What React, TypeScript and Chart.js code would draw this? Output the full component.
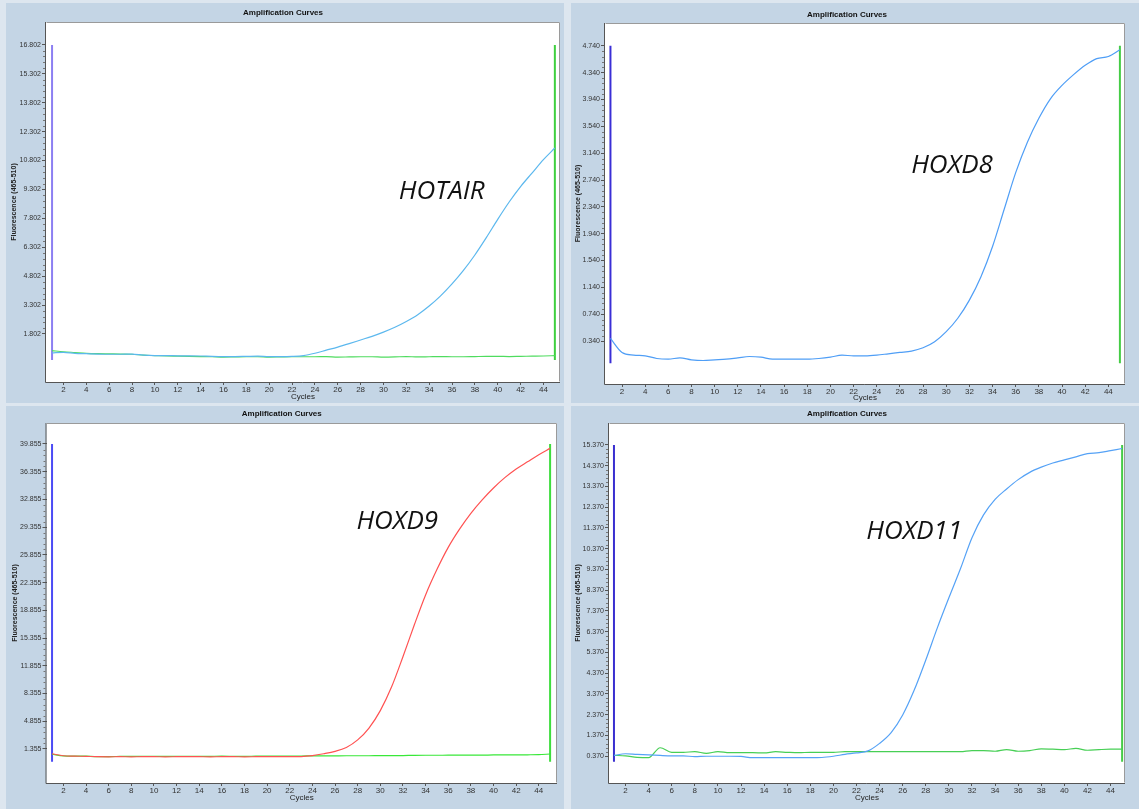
import React, { useEffect, useRef } from "react";
import { Chart, registerables } from "chart.js";

Chart.register(...registerables);

// ---------- shared categories / ticks ----------
const cycles = [
  1, 2, 3, 4, 5, 6, 7, 8, 9, 10, 11, 12, 13, 14, 15, 16, 17, 18, 19, 20, 21, 22, 23,
  24, 25, 26, 27, 28, 29, 30, 31, 32, 33, 34, 35, 36, 37, 38, 39, 40, 41, 42, 43, 44, 45,
];
const xTickValues = [2, 4, 6, 8, 10, 12, 14, 16, 18, 20, 22, 24, 26, 28, 30, 32, 34, 36, 38, 40, 42, 44];
const titleText = "Amplification Curves";
const yTitleText = "Fluorescence (465-510)";
const xTitleText = "Cycles";

// ---------- HOTAIR ----------
const hotairSample = [
  0.82, 0.85, 0.8, 0.78, 0.76, 0.75, 0.75, 0.76, 0.7, 0.68, 0.68, 0.67, 0.67, 0.66, 0.64,
  0.63, 0.63, 0.64, 0.65, 0.63, 0.63, 0.64, 0.68, 0.8, 0.96, 1.12, 1.3, 1.49, 1.68, 1.9,
  2.15, 2.45, 2.8, 3.25, 3.78, 4.4, 5.1, 5.9, 6.8, 7.75, 8.65, 9.45, 10.15, 10.85, 11.45,
];
const hotairControl = [
  0.94, 0.88, 0.84, 0.8, 0.78, 0.77, 0.76, 0.75, 0.7, 0.68, 0.66, 0.65, 0.64, 0.63, 0.62,
  0.6, 0.61, 0.62, 0.62, 0.6, 0.61, 0.62, 0.62, 0.62, 0.63, 0.6, 0.61, 0.62, 0.62, 0.6,
  0.61, 0.63, 0.61, 0.62, 0.63, 0.62, 0.62, 0.63, 0.64, 0.64, 0.63, 0.64, 0.65, 0.66, 0.68,
];
const hotairYTicks = [1.802, 3.302, 4.802, 6.302, 7.802, 9.302, 10.802, 12.302, 13.802, 15.302, 16.802];
const hotairYRange = [-0.69, 17.99];
const hotairXRange = [0.47, 45.45];
const hotairMarker = [0.45, 16.802];
const hotairLabelAt = [35.1, 9.2];

// ---------- HOXD8 ----------
const hoxd8Sample = [
  0.38, 0.17, 0.13, 0.12, 0.08, 0.07, 0.09, 0.06, 0.05, 0.06, 0.07, 0.09, 0.11, 0.1, 0.07,
  0.07, 0.07, 0.07, 0.08, 0.1, 0.13, 0.12, 0.12, 0.13, 0.15, 0.17, 0.19, 0.24, 0.33, 0.48,
  0.68, 0.95, 1.3, 1.75, 2.3, 2.85, 3.3, 3.66, 3.95, 4.15, 4.31, 4.45, 4.55, 4.58, 4.68,
];
const hoxd8YTicks = [0.34, 0.74, 1.14, 1.54, 1.94, 2.34, 2.74, 3.14, 3.54, 3.94, 4.34, 4.74];
const hoxd8YRange = [-0.3, 5.08];
const hoxd8XRange = [0.53, 45.44];
const hoxd8Marker = [0.01, 4.74];
const hoxd8LabelAt = [30.5, 2.96];

// ---------- HOXD9 ----------
const hoxd9Sample = [
  0.75, 0.5, 0.45, 0.42, 0.38, 0.37, 0.38, 0.37, 0.38, 0.38, 0.37, 0.38, 0.39, 0.38, 0.37,
  0.38, 0.38, 0.37, 0.38, 0.39, 0.38, 0.38, 0.4, 0.52, 0.75, 1.05, 1.55, 2.5, 4.0, 6.2,
  9.2, 13.0, 17.0, 20.8, 24.0, 26.8, 29.1, 31.1, 32.8, 34.3, 35.6, 36.7, 37.6, 38.5, 39.3,
];
const hoxd9Control = [
  0.69, 0.48, 0.45, 0.44, 0.4, 0.4, 0.41, 0.42, 0.41, 0.42, 0.42, 0.43, 0.42, 0.42, 0.43,
  0.44, 0.43, 0.42, 0.45, 0.46, 0.46, 0.47, 0.47, 0.48, 0.48, 0.49, 0.5, 0.5, 0.5, 0.51,
  0.51, 0.52, 0.55, 0.56, 0.56, 0.57, 0.57, 0.58, 0.58, 0.6, 0.6, 0.61, 0.62, 0.64, 0.72,
];
const hoxd9YTicks = [1.355, 4.855, 8.355, 11.855, 15.355, 18.855, 22.355, 25.855, 29.355, 32.855, 36.355, 39.855];
const hoxd9YRange = [-2.94, 42.5];
const hoxd9XRange = [0.51, 45.61];
const hoxd9Marker = [-0.25, 39.855];
const hoxd9LabelAt = [31.5, 30.0];

// ---------- HOXD11 ----------
const hoxd11Sample = [
  0.4, 0.48, 0.45, 0.43, 0.4, 0.38, 0.38, 0.34, 0.36, 0.36, 0.36, 0.35, 0.29, 0.29, 0.29,
  0.29, 0.29, 0.29, 0.3, 0.36, 0.45, 0.52, 0.62, 0.98, 1.5, 2.35, 3.55, 5.0, 6.55, 8.0,
  9.4, 10.9, 12.0, 12.75, 13.25, 13.7, 14.05, 14.3, 14.5, 14.65, 14.8, 14.95, 15.0, 15.1, 15.2,
];
const hoxd11Control = [
  0.4, 0.38, 0.31, 0.29, 0.77, 0.55, 0.55, 0.58, 0.5, 0.58, 0.53, 0.53, 0.53, 0.52, 0.58,
  0.55, 0.53, 0.55, 0.55, 0.55, 0.58, 0.58, 0.58, 0.58, 0.58, 0.58, 0.58, 0.58, 0.58, 0.58,
  0.58, 0.63, 0.63, 0.6, 0.68, 0.6, 0.63, 0.72, 0.7, 0.68, 0.74, 0.65, 0.68, 0.7, 0.7,
];
const hoxd11YTicks = [0.37, 1.37, 2.37, 3.37, 4.37, 5.37, 6.37, 7.37, 8.37, 9.37, 10.37, 11.37, 12.37, 13.37, 14.37, 15.37];
const hoxd11YRange = [-0.93, 16.43];
const hoxd11XRange = [0.57, 45.25];
const hoxd11Marker = [0.1, 15.37];
const hoxd11LabelAt = [27.0, 11.2];

// ---------- plugins ----------
const panelDecor = {
  id: "panelDecor",
  beforeDraw(chart: any) {
    const { ctx, chartArea: a } = chart;
    ctx.save();
    ctx.fillStyle = "#ffffff";
    ctx.fillRect(a.left, a.top, a.right - a.left, a.bottom - a.top);
    ctx.restore();
  },
  afterDraw(chart: any, _args: any, opts: any) {
    const { ctx, chartArea: a, scales } = chart;
    ctx.save();
    ctx.lineWidth = 1;
    ctx.strokeStyle = "#9a9a9a";
    ctx.beginPath();
    ctx.moveTo(a.left + 0.5, a.top + 0.5);
    ctx.lineTo(a.right - 0.5, a.top + 0.5);
    ctx.lineTo(a.right - 0.5, a.bottom - 0.5);
    ctx.stroke();
    ctx.strokeStyle = "#555555";
    ctx.beginPath();
    ctx.moveTo(a.left - 0.5, a.top);
    ctx.lineTo(a.left - 0.5, a.bottom + 0.5);
    ctx.lineTo(a.right, a.bottom + 0.5);
    ctx.stroke();
    const y = scales.y;
    const t: number[] = opts.yTicks || [];
    ctx.strokeStyle = "#777777";
    ctx.beginPath();
    for (let i = 0; i < t.length - 1; i++) {
      const step = (t[i + 1] - t[i]) / 5;
      for (let k = 1; k < 5; k++) {
        const py = Math.round(y.getPixelForValue(t[i] + k * step)) + 0.5;
        ctx.moveTo(a.left - 3, py);
        ctx.lineTo(a.left - 1, py);
      }
    }
    ctx.stroke();
    if (opts.label) {
      const px = scales.x.getPixelForValue(opts.labelAt[0]);
      const py = scales.y.getPixelForValue(opts.labelAt[1]);
      ctx.font = 'italic 400 26px "Open Sans", "Noto Sans", sans-serif';
      ctx.fillStyle = "#111111";
      ctx.textAlign = "center";
      ctx.textBaseline = "middle";
      ctx.fillText(opts.label, px, py);
    }
    ctx.restore();
  },
};

type Series = { values: number[]; color: string; width?: number };
type Spec = {
  left: number;
  top: number;
  width: number;
  height: number;
  padL: number;
  padR: number;
  padB: number;
  yW: number;
  xH: number;
  titlePadTop: number;
  titlePadBottom: number;
  yTitlePad: number;
  xTitlePadBottom: number;
  yTicks: number[];
  yRange: number[];
  xRange: number[];
  marker: number[];
  purple: string;
  green: string;
  series: Series[];
  label: string;
  labelAt: number[];
};

const family = '"Liberation Sans", Arial, sans-serif';
const xTickFont = { family, size: 8 };
const yTickFont = { family, size: 7 };

function Panel({ spec }: { spec: Spec }) {
  const ref = useRef<HTMLCanvasElement | null>(null);
  useEffect(() => {
    if (!ref.current) return;
    const datasets: any[] = spec.series.map((s) => ({
      data: cycles.map((c, i) => ({ x: c, y: s.values[i] })),
      borderColor: s.color,
      borderWidth: s.width ?? 1.2,
      pointRadius: 0,
      cubicInterpolationMode: "monotone",
      fill: false,
    }));
    datasets.push({
      data: [
        { x: cycles[0], y: spec.marker[0] },
        { x: cycles[0], y: spec.marker[1] },
      ],
      borderColor: spec.purple,
      borderWidth: 2,
      pointRadius: 0,
      fill: false,
    });
    datasets.push({
      data: [
        { x: cycles[cycles.length - 1], y: spec.marker[0] },
        { x: cycles[cycles.length - 1], y: spec.marker[1] },
      ],
      borderColor: spec.green,
      borderWidth: 2,
      pointRadius: 0,
      fill: false,
    });
    const chart = new Chart(ref.current, {
      type: "line",
      data: { datasets },
      plugins: [panelDecor as any],
      options: {
        responsive: false,
        animation: false,
        devicePixelRatio: 1,
        events: [],
        layout: { padding: { left: spec.padL, right: spec.padR, top: 0, bottom: spec.padB } },
        plugins: {
          legend: { display: false },
          tooltip: { enabled: false },
          title: {
            display: true,
            text: titleText,
            color: "#111111",
            font: { family, size: 8, weight: "bold", lineHeight: 1.25 },
            padding: { top: spec.titlePadTop, bottom: spec.titlePadBottom },
          },
          panelDecor: { yTicks: spec.yTicks, label: spec.label, labelAt: spec.labelAt },
        } as any,
        scales: {
          x: {
            type: "linear",
            min: spec.xRange[0],
            max: spec.xRange[1],
            afterFit: (s: any) => {
              s.height = spec.xH;
            },
            afterBuildTicks: (s: any) => {
              s.ticks = xTickValues.map((v) => ({ value: v }));
            },
            ticks: {
              autoSkip: false,
              maxRotation: 0,
              padding: 0,
              color: "#333333",
              font: xTickFont,
              callback: (v: any) => String(v),
            },
            grid: { drawOnChartArea: false, drawTicks: true, tickLength: 3, color: "#555555" },
            border: { display: false },
            title: {
              display: true,
              text: xTitleText,
              color: "#222222",
              font: { family, size: 8 },
              padding: { top: 0, bottom: spec.xTitlePadBottom },
            },
          },
          y: {
            type: "linear",
            min: spec.yRange[0],
            max: spec.yRange[1],
            afterFit: (s: any) => {
              s.width = spec.yW;
            },
            afterBuildTicks: (s: any) => {
              s.ticks = spec.yTicks.map((v) => ({ value: v }));
            },
            ticks: {
              autoSkip: false,
              padding: 1,
              color: "#333333",
              font: yTickFont,
              callback: (v: any) => Number(v).toFixed(3),
            },
            grid: { drawOnChartArea: false, drawTicks: true, tickLength: 4, color: "#555555" },
            border: { display: false },
            title: {
              display: true,
              text: yTitleText,
              color: "#222222",
              font: { family, size: 7, weight: "bold" },
              padding: { top: spec.yTitlePad, bottom: 0 },
            },
          },
        },
      } as any,
    });
    return () => chart.destroy();
  }, []);
  return (
    <canvas
      ref={ref}
      width={spec.width}
      height={spec.height}
      style={{ position: "absolute", left: spec.left, top: spec.top, width: spec.width, height: spec.height }}
    />
  );
}

const specs: Spec[] = [
  {
    left: 0, top: 0, width: 566, height: 403,
    padL: 6, padR: 6, padB: 0, yW: 40, xH: 21,
    titlePadTop: 8, titlePadBottom: 4, yTitlePad: 4, xTitlePadBottom: 1,
    yTicks: hotairYTicks, yRange: hotairYRange, xRange: hotairXRange, marker: hotairMarker,
    purple: "#8c7ff2", green: "#3fcf3f",
    series: [
      { values: hotairSample, color: "#5cb8ee" },
      { values: hotairControl, color: "#4fdc5f" },
    ],
    label: "HOTAIR", labelAt: hotairLabelAt,
  },
  {
    left: 566, top: 0, width: 573, height: 403,
    padL: 3, padR: 14, padB: 0, yW: 36, xH: 19,
    titlePadTop: 10, titlePadBottom: 3, yTitlePad: 5, xTitlePadBottom: 0,
    yTicks: hoxd8YTicks, yRange: hoxd8YRange, xRange: hoxd8XRange, marker: hoxd8Marker,
    purple: "#3a2fd6", green: "#46cc46",
    series: [{ values: hoxd8Sample, color: "#4f9ef6" }],
    label: "HOXD8", labelAt: hoxd8LabelAt,
  },
  {
    left: 0, top: 403, width: 566, height: 406,
    padL: 6.5, padR: 9, padB: 5, yW: 40, xH: 21,
    titlePadTop: 6, titlePadBottom: 4, yTitlePad: 4, xTitlePadBottom: 1,
    yTicks: hoxd9YTicks, yRange: hoxd9YRange, xRange: hoxd9XRange, marker: hoxd9Marker,
    purple: "#4b4bf5", green: "#3ddd3d",
    series: [
      { values: hoxd9Sample, color: "#ff5252" },
      { values: hoxd9Control, color: "#38e838" },
    ],
    label: "HOXD9", labelAt: hoxd9LabelAt,
  },
  {
    left: 566, top: 403, width: 573, height: 406,
    padL: 3, padR: 14, padB: 5, yW: 40, xH: 21,
    titlePadTop: 6, titlePadBottom: 4, yTitlePad: 5, xTitlePadBottom: 1,
    yTicks: hoxd11YTicks, yRange: hoxd11YRange, xRange: hoxd11XRange, marker: hoxd11Marker,
    purple: "#3a2fd0", green: "#46cc46",
    series: [
      { values: hoxd11Sample, color: "#55a2f6" },
      { values: hoxd11Control, color: "#47cf55" },
    ],
    label: "HOXD11", labelAt: hoxd11LabelAt,
  },
];

const panelBg = "#c4d5e5";

export default function App() {
  return (
    <div
      style={{
        position: "absolute",
        left: 0,
        top: 0,
        width: 1139,
        height: 809,
        overflow: "hidden",
        background: "#dde6ef",
      }}
    >
      <div style={{ position: "absolute", left: 6, top: 3, width: 558, height: 400, background: panelBg }} />
      <div style={{ position: "absolute", left: 571, top: 3, width: 568, height: 400, background: panelBg }} />
      <div style={{ position: "absolute", left: 6, top: 406, width: 558, height: 403, background: panelBg }} />
      <div style={{ position: "absolute", left: 571, top: 406, width: 568, height: 403, background: panelBg }} />
      {specs.map((s, i) => (
        <Panel key={i} spec={s} />
      ))}
    </div>
  );
}
